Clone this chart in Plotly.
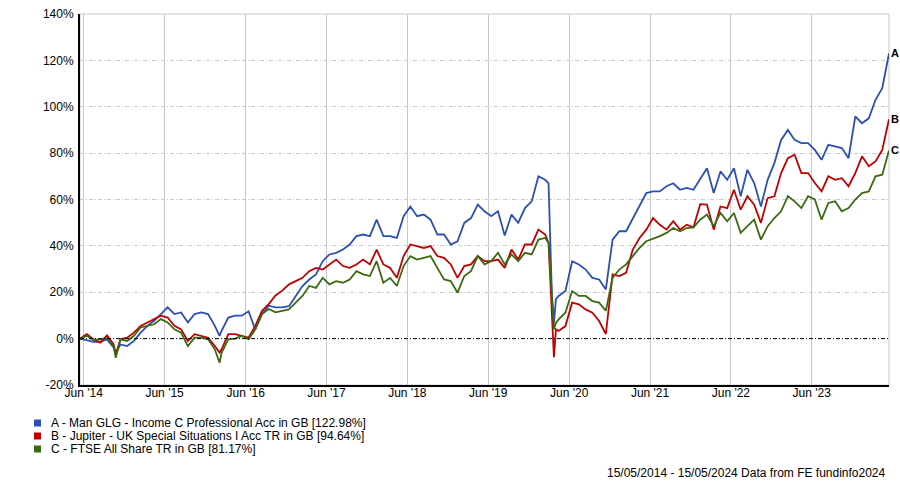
import pandas as pd
import plotly.graph_objects as go

# ---------------- data ----------------
start_date = "2014-05-15"
end_date = "2024-05-15"
# months elapsed since start (monthly readings plus a few extra readings at sharp moves)
months = sorted(list(range(121)) + [5.3, 20.7, 69.5, 70.3, 70.6])

series_names = [
    "A - Man GLG - Income C Professional Acc in GB [122.98%]",
    "B - Jupiter - UK Special Situations I Acc TR in GB [94.64%]",
    "C - FTSE All Share TR in GB [81.17%]",
]
series_labels = ["A", "B", "C"]
series_colors = ["#2B4FB3", "#C00000", "#3A6B12"]

a_values = [0, -0.6, -1.4, -1.4, -0.3, -3.9,
            -6.5,
            -2.5, -3.2, -1, 2.6, 5.5, 7.7, 10.6, 13.5, 10.6, 11.3, 7, 10.6, 11.3, 10.6, 5.5,
            1.2,
            3.3, 9.1, 9.9, 9.9, 11.8, 4, 10.6, 14.2, 13.5, 13.5,
            14, 18.4, 22.7, 25.5, 27.7, 33.4, 36.3, 37, 38.4, 40.6,
            44.2, 44.9, 44.2, 51.3, 44.2, 44.2, 43.4, 52.8, 57, 52.8,
            53.5, 51.3, 44.9, 44.9, 40.6, 42, 49.9, 52, 57.8, 54.9,
            52.8, 54.9, 44.5, 53.5, 49.9, 56.3, 59.2, 70, 68.5,
            67, 18.4, 6.9, 17,
            18.4, 20.5, 33.4, 32, 29.8, 26.2, 25.5, 21.2, 42.7, 46.3,
            46.3, 52, 57, 62.8, 63.5, 63.5, 65.7, 67, 64.2, 65,
            64.2, 69, 73.5, 62.8, 72.1, 68.5, 73.5, 61.4, 72.8, 67.1,
            57, 68.5, 75.7, 85.7, 90, 85.7, 84.3, 84.3, 81.4, 77.1,
            83.6, 82.9, 82.2, 77.8, 95.8, 92.9, 95, 103, 108, 122.98]

b_values = [0, 1.9, -0.3, -1.7, 1.4, -2.5,
            -6.8,
            -0.3, 0.4, 2.6, 5.5, 7, 8.4, 9.9, 9.1, 5.5, 4, -1, 1.9, 1.2, 0.4, -3.2,
            -6,
            -4.6, 1.9, 1.9, 1.2, 0.4, 5.5, 12, 14.9, 18.6, 20.7,
            23.4, 24.8, 26.2, 29.1, 30.5, 29.8, 32, 34.1, 31.3, 30.5,
            32, 34.1, 32, 38.4, 32, 30.5, 26.2, 35.6, 40.6, 39.9,
            39.1, 39.9, 35.6, 34.8, 32, 26.2, 31.3, 32, 35.6, 33.4,
            33.4, 34.1, 30.5, 38.4, 34.1, 40.6, 40.6, 47, 44.9,
            41.3, 14, -8, 4,
            3.3, 5.4, 15.5, 14.8, 12.6, 11.2, 7.6, 2, 27.7, 27,
            28.4, 38.4, 43.4, 47, 52, 49.1, 47, 50.6, 47, 49.1,
            48, 58, 57.8, 47, 57, 56.3, 64.2, 55.6, 61.4, 57.8,
            49.9, 60.6, 61.4, 71.4, 77.8, 79.3, 71.4, 71.4, 67.1, 63.5,
            70, 68.5, 69.2, 65.7, 71.4, 78.6, 74.3, 76.4, 81.4, 94.64]

c_values = [0, 1.2, -0.6, -0.3, 0.4, -3.2,
            -8.3,
            -0.3, -1, 1.2, 4.8, 5.5, 6.2, 8.4, 7, 4, 2.6, -3.2, 0.4, 0.4, -0.3, -4.6,
            -10.4,
            -6.1, -0.3, 0, 1.2, -0.3, 4, 10.6, 12.8, 11.3, 12,
            12.6, 15.5, 18.4, 22.7, 21.9, 26.2, 23.4, 24.8, 24.1, 25.5,
            29.1, 27.7, 27, 33.4, 24.1, 26.2, 22.7, 31.3, 35.6, 34.1,
            34.8, 35.6, 30.5, 25.5, 24.8, 19.8, 27, 29.1, 35.6, 32,
            33.4, 37, 32, 36.3, 33.4, 37, 36.3, 42.7, 43.4,
            41.3, 18.4, 4, 6.9,
            8.3, 11.2, 20.5, 18.4, 18.4, 16.2, 15.5, 12, 26.2, 29.8,
            32, 35.6, 39.1, 42, 43, 44.2, 45.6, 47.7, 46.3, 47.7,
            48, 51.3, 53.5, 48.5, 54.2, 50.6, 54.2, 45.6, 48.5, 51.3,
            42.7, 48.5, 52, 54.9, 61.4, 59.2, 56.3, 61.4, 60, 51.3,
            58.5, 59.2, 54.9, 56.3, 60, 62.8, 63.5, 70, 70.7, 81.17]

tick_dates = [f"{y}-06-01" for y in range(2014, 2024)]
tick_labels = ["Jun '14", "Jun '15", "Jun '16", "Jun '17", "Jun '18",
               "Jun '19", "Jun '20", "Jun '21", "Jun '22", "Jun '23"]
y_ticks = [-20, 0, 20, 40, 60, 80, 100, 120, 140]
footer_text = "15/05/2014 - 15/05/2024 Data from FE fundinfo2024"

# ---------------- figure ----------------
W, H = 900, 484
ML, MR, MT, MB = 80, 11, 14, 99
PW, PH = W - ML - MR, H - MT - MB

def px(xp):
    return (xp - ML) / PW

def py(yp):
    return (H - MB - yp) / PH

t0 = pd.Timestamp(start_date)
t1 = pd.Timestamp(end_date)
dates = [t0 + (t1 - t0) * (m / 120.0) for m in months]

FONT = "Liberation Sans, Arial, sans-serif"
fig = go.Figure()
for name, vals, col in zip(series_names, [a_values, b_values, c_values], series_colors):
    fig.add_trace(go.Scatter(x=dates, y=vals, mode="lines", name=name,
                             line=dict(color=col, width=1.8), showlegend=False,
                             hoverinfo="skip", cliponaxis=False))

# end labels
for lab, vals in zip(series_labels, [a_values, b_values, c_values]):
    fig.add_annotation(x=dates[-1], y=vals[-1], text=f"<b>{lab}</b>", showarrow=False,
                       xanchor="left", yanchor="middle", xshift=0,
                       font=dict(family=FONT, size=11, color="black"))

# zero line
fig.add_shape(type="line", xref="paper", yref="y", x0=0, x1=1, y0=0, y1=0,
              line=dict(color="black", width=1, dash="4px,2px,1px,2px"))
# frame (top/right light grey)
fig.add_shape(type="rect", xref="paper", yref="paper", x0=0, x1=1, y0=0, y1=1,
              line=dict(color="#c8c8c8", width=1), layer="below")

# legend
row_y = [423, 436, 449]
for name, col, ry in zip(series_names, series_colors, row_y):
    fig.add_shape(type="rect", xref="paper", yref="paper",
                  x0=px(34), x1=px(41), y0=py(ry + 3.5), y1=py(ry - 3.5),
                  fillcolor=col, line=dict(width=0))
    fig.add_annotation(xref="paper", yref="paper", x=px(49), y=py(ry), text=name,
                       showarrow=False, xanchor="left", yanchor="middle",
                       font=dict(family=FONT, size=12, color="black"))

fig.add_annotation(xref="paper", yref="paper", x=px(888), y=py(473), text=footer_text,
                   showarrow=False, xanchor="right", yanchor="middle",
                   font=dict(family=FONT, size=12, color="black"))

fig.update_layout(
    width=W, height=H,
    margin=dict(l=ML, r=MR, t=MT, b=MB, autoexpand=False),
    paper_bgcolor="white", plot_bgcolor="white",
    font=dict(family=FONT, size=12, color="black"),
    showlegend=False,
    xaxis=dict(type="date", range=[t0, t1], tickvals=tick_dates, ticktext=tick_labels,
               showgrid=True, gridcolor="#c8c8c8", gridwidth=1,
               showline=True, linecolor="black", linewidth=2,
               ticks="", ticklabelstandoff=-4,
               zeroline=False, tickfont=dict(family=FONT, size=12, color="black")),
    yaxis=dict(range=[-20, 140], tickvals=y_ticks, ticktext=[f"{v}%" for v in y_ticks],
               showgrid=True, gridcolor="#c8c8c8", gridwidth=1, griddash="4px,2px,1px,2px",
               showline=True, linecolor="black", linewidth=2,
               ticks="outside", ticklen=2, tickcolor="rgba(0,0,0,0)",
               zeroline=False, tickfont=dict(family=FONT, size=12, color="black")),
)

fig.write_html("out.html", config={"displayModeBar": False},
               post_script="document.body.style.margin='0';document.body.style.padding='0';")
